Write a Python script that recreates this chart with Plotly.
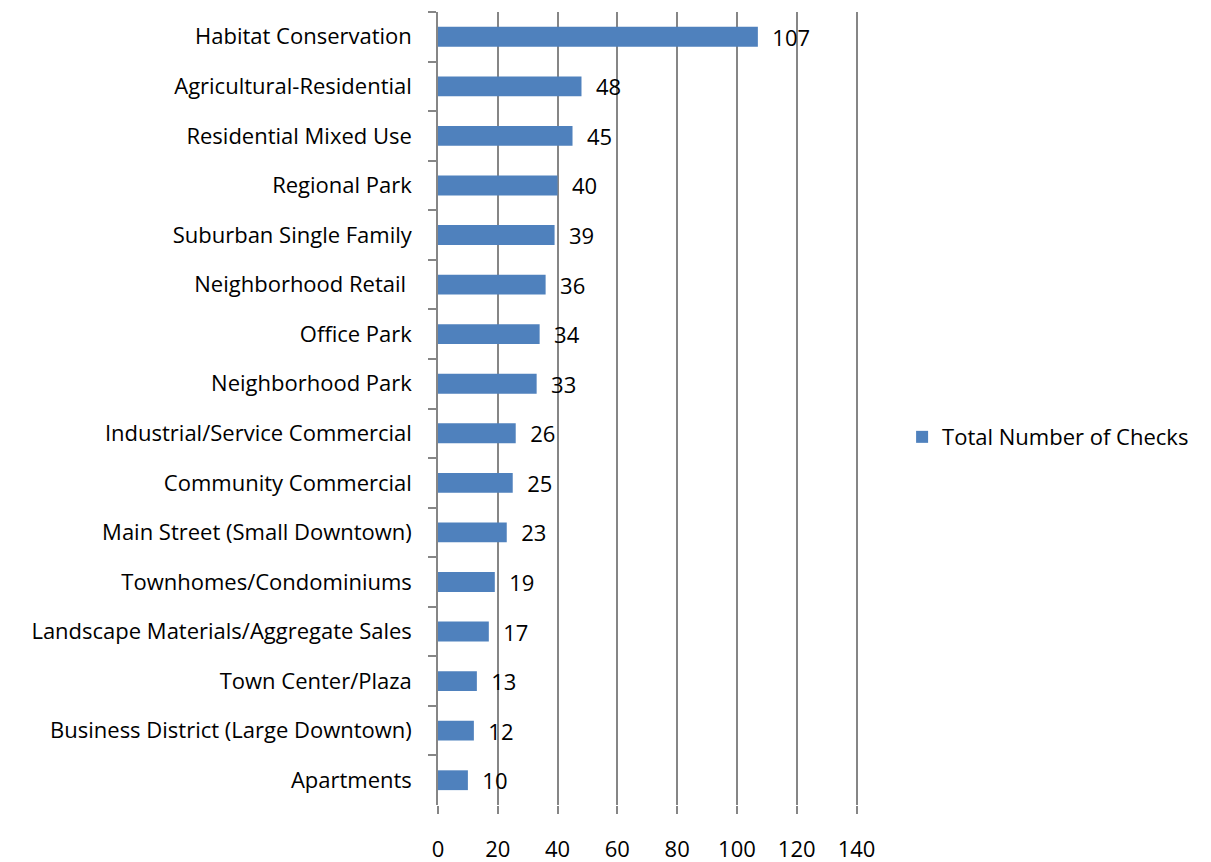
import plotly.graph_objects as go

categories = [
    "Habitat Conservation", "Agricultural-Residential", "Residential Mixed Use",
    "Regional Park", "Suburban Single Family", "Neighborhood Retail ",
    "Office Park", "Neighborhood Park", "Industrial/Service Commercial",
    "Community Commercial", "Main Street (Small Downtown)",
    "Townhomes/Condominiums", "Landscape Materials/Aggregate Sales",
    "Town Center/Plaza", "Business District (Large Downtown)", "Apartments",
]
values = [107, 48, 45, 40, 39, 36, 34, 33, 26, 25, 23, 19, 17, 13, 12, 10]
series_name = "Total Number of Checks"
x_ticks = [0, 20, 40, 60, 80, 100, 120, 140]

FONT = "Open Sans"
FS = 22
GRID = "#868686"

fig = go.Figure(go.Bar(
    y=categories, x=values, orientation="h", name=series_name,
    marker=dict(color="#4F81BD", line=dict(width=0)),
    text=values, texttemplate="  %{x}", textposition="outside",
    constraintext="none",
    textfont=dict(family=FONT, size=FS, color="#000000"),
    cliponaxis=False, showlegend=True,
))

fig.update_layout(
    width=1211, height=862,
    margin=dict(l=430, r=361, t=4, b=65, autoexpand=False),
    paper_bgcolor="white", plot_bgcolor="white",
    bargap=0.6,
    font=dict(family=FONT, size=FS, color="#000000"),
    legend=dict(x=1.105, y=0.464, xanchor="left", yanchor="middle",
                font=dict(family=FONT, size=22, color="#000000"),
                itemsizing="constant"),
    xaxis=dict(range=[0, 140.5], tickvals=x_ticks, showgrid=True,
               gridcolor=GRID, gridwidth=1.5, zeroline=False,
               showline=False, ticks="outside", ticklen=8,
               tickcolor=GRID, tickwidth=1.5,
               ticklabelstandoff=17, automargin=False,
               tickfont=dict(family=FONT, size=FS, color="#000000")),
    yaxis=dict(autorange="reversed", showgrid=False, zeroline=False,
               showline=True, linecolor=GRID, linewidth=1.5,
               ticks="outside", ticklen=8, tickcolor=GRID, tickwidth=1.5,
               tickson="boundaries", ticklabelstandoff=20, automargin=False,
               tickfont=dict(family=FONT, size=FS, color="#000000")),
)

fig.write_html("out.html")
